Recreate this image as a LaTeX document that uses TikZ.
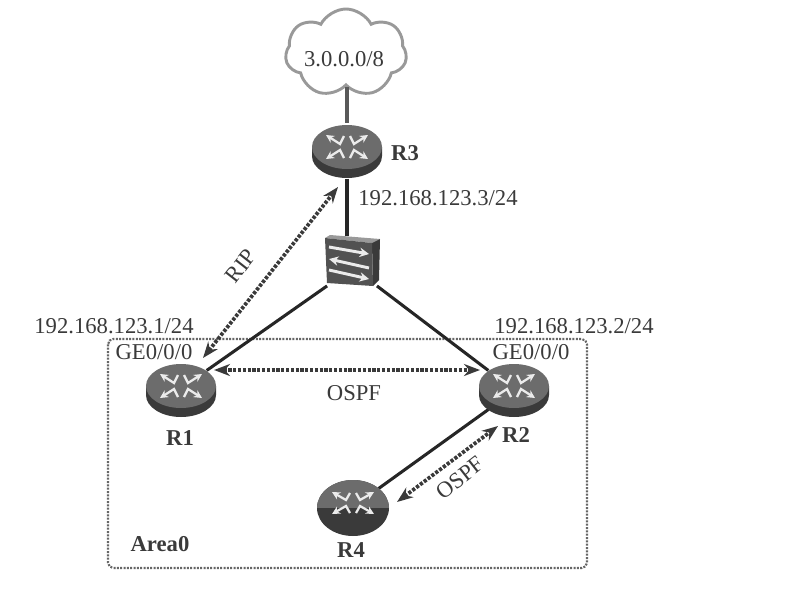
\documentclass[tikz,border=0pt]{standalone}
\usepackage{fontspec}
\setmainfont{Liberation Serif}
\usepackage{xcolor}
\usetikzlibrary{arrows.meta,shapes.geometric,shapes.symbols}
\definecolor{inkgray}{HTML}{3A3A3A}
\definecolor{topgray}{HTML}{6C6C6C}
\definecolor{sidegray}{HTML}{3A3A3A}
\tikzset{
  routerspot/.style={ellipse,minimum width=54pt,minimum height=41pt,inner sep=0pt},
  linkline/.style={line width=2.3pt,draw=black!85},
  ospfline/.style={line width=2.8pt,draw=inkgray,dash pattern=on 2.4pt off 1.2pt,{Stealth[length=12pt,width=9pt]}-{Stealth[length=12pt,width=9pt]}},
  routerarrow/.style={white!92!black,line width=1.7pt,-{Stealth[length=6pt,width=6pt]}},
  switcharrow/.style={white!92!black,line width=2.2pt,-{Stealth[length=7pt,width=7pt]}},
  labelbold/.style={font=\fontsize{17}{18}\selectfont\bfseries},
  routerpic/.pic={
    \fill[sidegray] (-35,-4) -- (-35,5) arc[start angle=180,end angle=0,x radius=35,y radius=22] -- (35,-4) -- cycle;
    \fill[topgray] (0,-4) ellipse[x radius=35,y radius=22];
    \foreach \sx/\sy in {1/1,-1/1,1/-1,-1/-1}{
      \draw[routerarrow] (\sx*3,{\sy*11-4}) -- (\sx*7,{\sy*3-4}) -- (\sx*21,{\sy*12-4});
    }
  },
  roundpic/.pic={
    \fill[sidegray] (0,0) ellipse[x radius=36,y radius=28];
    \begin{scope}
      \clip (-37,-29) rectangle (37,-1);
      \fill[topgray] (0,0) ellipse[x radius=36,y radius=28];
    \end{scope}
    \foreach \sx/\sy in {1/1,-1/1,1/-1,-1/-1}{
      \draw[routerarrow] (\sx*3,{\sy*10-5}) -- (\sx*7,{\sy*3-5}) -- (\sx*21,{\sy*11-5});
    }
  }
}
\begin{document}
\begin{tikzpicture}[x=0.75pt,y=-0.75pt,every node/.style={font=\fontsize{17}{18}\selectfont,text=inkgray}]
  \useasboundingbox (0,0) rectangle (804,597);
  % area box
  \draw[line width=1.6pt,draw=black!60,dash pattern=on 1.5pt off 1pt,rounded corners=4pt] (108,339) rectangle (587,568);
  % devices
  \node[routerspot] (R3) at (347,151) {};
  \node[routerspot] (R1) at (181,390) {};
  \node[routerspot] (R2) at (514,390) {};
  \node[routerspot] (R4) at (353,508) {};
  \node[minimum width=37pt,minimum height=37pt,inner sep=0pt] (sw) at (352,261) {};
  \node[cloud,cloud puffs=7,cloud puff arc=125,aspect=1.35,draw=black!40,line width=2.2pt,fill=white,minimum width=91pt,minimum height=66pt,inner sep=0pt] (net) at (346,53) {};
  \node (ntxt) at (344,59) {3.0.0.0/8};
  % links
  \draw[line width=2.4pt,draw=black!65] (R3 |- net.south) -- (R3);
  \draw[linkline] (R3) -- (R3 |- sw.north);
  \draw[linkline] (sw.south west) -- (R1.north east);
  \draw[linkline] (sw.south east) -- (R2.north west);
  \draw[linkline] (R4.north east) -- (R2.south west);
  % switch
  \fill[black!40] (325,238) -- (330,235) -- (380,239) -- (372,243) -- cycle;
  \fill[sidegray] (372,243) -- (380,239) -- (379,280) -- (373,286) -- cycle;
  \fill[black!68] (325,238) -- (372,243) -- (373,286) -- (327,283) -- cycle;
  \draw[switcharrow] (329,247) -- (369,254);
  \draw[switcharrow] (369,268) -- (329,259);
  \draw[switcharrow] (329,270) -- (369,279);
  % routers
  \pic at (R3) {routerpic};
  \pic at (R1) {routerpic};
  \pic at (R2) {routerpic};
  \pic at (R4) {roundpic};
  % protocol arrows
  \coordinate (ripa) at (203,358);
  \coordinate (ripb) at (338,187);
  \coordinate (ospfa) at (214,370);
  \coordinate (ospfb) at (480,370);
  \coordinate (ospfc) at (397,502);
  \coordinate (ospfd) at (498,426);
  \draw[ospfline] (ripa) -- (ripb);
  \draw[ospfline] (ospfa) -- (ospfb);
  \draw[ospfline] (ospfc) -- (ospfd);
  % labels
  \node (l3) at (438,198) {192.168.123.3/24};
  \node (l1) at (114,326) {192.168.123.1/24};
  \node (l2) at (574,326) {192.168.123.2/24};
  \node (g1) at (154,352) {GE0/0/0};
  \node (g2) at (531,352) {GE0/0/0};
  \node[labelbold] (n3) at (405,153) {R3};
  \node[labelbold] (n1) at (180,438) {R1};
  \node[labelbold] (n2) at (516,435) {R2};
  \node[labelbold] (n4) at (351,550) {R4};
  \node[labelbold] (area) at (160,544) {Area0};
  \node[rotate=52] (rip) at (241,266) {RIP};
  \node (o1) at (354,393) {OSPF};
  \node[rotate=38] (o2) at (460,478) {OSPF};
\end{tikzpicture}
\end{document}
